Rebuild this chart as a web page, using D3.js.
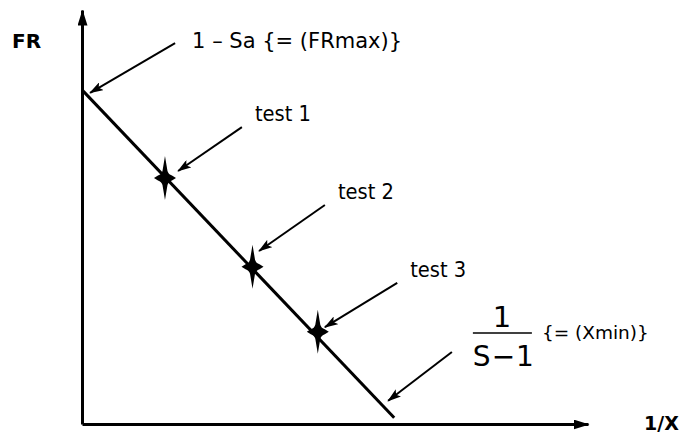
<!DOCTYPE html>
<html>
<head>
<meta charset="utf-8">
<script src="https://cdn.jsdelivr.net/npm/d3@7"></script>
<style>
  body { margin: 0; background: #fff; }
  text { font-family: "DejaVu Sans", sans-serif; fill: #000; }
  .bold { font-weight: bold; }
</style>
</head>
<body>
<div id="chart"></div>
<script>
// line of FR against 1/X, in axis fractions
var frMax = 0.807;
var xMin = 0.617;
var lineEndY = 0.015;

// test points
var testNames = ["test 1", "test 2", "test 3"];
var testX = [0.164, 0.337, 0.466];
var testY = [0.594, 0.380, 0.223];

// leader arrows, start -> tip
var arrowLabels = ["1 – Sa {= (FRmax)}", "test 1", "test 2", "test 3", "Xmin"];
var arrowFrom = [[0.184, 0.920], [0.316, 0.717], [0.480, 0.529], [0.623, 0.341], [0.731, 0.174]];
var arrowTo   = [[0.016, 0.800], [0.190, 0.611], [0.350, 0.418], [0.480, 0.234], [0.605, 0.056]];

var width = 688, height = 436;
var margin = {top: 10, right: 100, bottom: 12, left: 82};

var x = d3.scaleLinear().domain([0, 1]).range([margin.left, width - margin.right]);
var y = d3.scaleLinear().domain([0, 1]).range([height - margin.bottom, margin.top]);

var svg = d3.select("#chart").append("svg")
    .attr("width", width)
    .attr("height", height);

var defs = svg.append("defs");
// big heads for axes
defs.append("marker")
    .attr("id", "axisHead")
    .attr("markerUnits", "userSpaceOnUse")
    .attr("viewBox", "0 -5 16 10")
    .attr("refX", 15).attr("refY", 0)
    .attr("markerWidth", 16).attr("markerHeight", 10)
    .attr("orient", "auto")
  .append("path")
    .attr("d", "M0,-5L16,0L0,5Z");
// small heads for leaders
defs.append("marker")
    .attr("id", "leadHead")
    .attr("markerUnits", "userSpaceOnUse")
    .attr("viewBox", "0 -4.5 14 9")
    .attr("refX", 13).attr("refY", 0)
    .attr("markerWidth", 14).attr("markerHeight", 9)
    .attr("orient", "auto")
  .append("path")
    .attr("d", "M0,-4.5L14,0L0,4.5L3,0Z");

// axes with no ticks, arrow at the end
var yAxis = d3.axisLeft(y).tickValues([]).tickSizeOuter(0);
var xAxis = d3.axisBottom(x).tickValues([]).tickSizeOuter(0);

svg.append("g")
    .attr("class", "y axis")
    .attr("transform", "translate(" + x(0) + ",0)")
    .call(yAxis)
  .select(".domain")
    .attr("stroke-width", 3)
    .attr("marker-end", "url(#axisHead)");

svg.append("g")
    .attr("class", "x axis")
    .attr("transform", "translate(0," + y(0) + ")")
    .call(xAxis)
  .select(".domain")
    .attr("stroke-width", 3)
    .attr("marker-end", "url(#axisHead)");

svg.append("text").attr("class", "bold")
    .attr("x", 12).attr("y", 48)
    .style("font-size", "20px")
    .text("FR");

svg.append("text").attr("class", "bold")
    .attr("x", 644).attr("y", 430)
    .style("font-size", "19px")
    .text("1/X");

// the FR line
var valueline = d3.line()
    .x(function(d) { return x(d[0]); })
    .y(function(d) { return y(d[1]); });

svg.append("path")
    .attr("d", valueline([[0, frMax], [xMin, lineEndY]]))
    .attr("fill", "none")
    .attr("stroke", "#000")
    .attr("stroke-width", 3);

// four-point stars, fat centre, thin spikes
var star = "M0,-22 L2.5,-7 Q3.5,-3.5 7,-2.5 L11,0 L7,2.5 Q3.5,3.5 2.5,7 L0,22 L-2.5,7 Q-3.5,3.5 -7,2.5 L-11,0 L-7,-2.5 Q-3.5,-3.5 -2.5,-7 Z";
svg.selectAll(".star")
    .data(testX)
  .enter().append("path")
    .attr("class", "star")
    .attr("transform", function(d, i) { return "translate(" + x(d) + "," + y(testY[i]) + ")"; })
    .attr("d", star)
    .attr("fill", "#000");

// leader arrows
svg.selectAll(".lead")
    .data(arrowFrom)
  .enter().append("line")
    .attr("class", "lead")
    .attr("x1", function(d) { return x(d[0]); })
    .attr("y1", function(d) { return y(d[1]); })
    .attr("x2", function(d, i) { return x(arrowTo[i][0]); })
    .attr("y2", function(d, i) { return y(arrowTo[i][1]); })
    .attr("stroke", "#000")
    .attr("stroke-width", 2)
    .attr("marker-end", "url(#leadHead)");

// labels next to arrow starts
var a0 = arrowFrom[0];
svg.append("text")
    .attr("x", x(a0[0]) + 17).attr("y", y(a0[1]) + 5)
    .style("font-size", "21.5px")
    .attr("textLength", 210)
    .attr("lengthAdjust", "spacingAndGlyphs")
    .text(arrowLabels[0]);

testNames.forEach(function(name, i) {
  var a = arrowFrom[i + 1];
  svg.append("text")
      .attr("x", x(a[0]) + 13).attr("y", y(a[1]) - 6)
      .style("font-size", "21px")
      .attr("textLength", 56)
      .attr("lengthAdjust", "spacingAndGlyphs")
      .text(name);
});

// fraction 1/(S-1) {= (Xmin)}
var a4 = arrowFrom[4];
var fx = x(a4[0]) + 21, fy = y(a4[1]) - 19;
var frac = svg.append("g").attr("transform", "translate(" + fx + "," + fy + ")");
frac.append("text")
    .attr("x", 29).attr("y", -6)
    .attr("text-anchor", "middle")
    .style("font-size", "29px")
    .text("1");
frac.append("line")
    .attr("x1", 0).attr("x2", 59)
    .attr("y1", 0).attr("y2", 0)
    .attr("stroke", "#000").attr("stroke-width", 1.5);
frac.append("text")
    .attr("x", 31).attr("y", 33)
    .attr("text-anchor", "middle")
    .style("font-size", "28px")
    .style("letter-spacing", "1px")
    .text("S−1");
frac.append("text")
    .attr("x", 69).attr("y", 6)
    .style("font-size", "18.5px")
    .text("{= (" + arrowLabels[4] + ")}");
</script>
</body>
</html>
